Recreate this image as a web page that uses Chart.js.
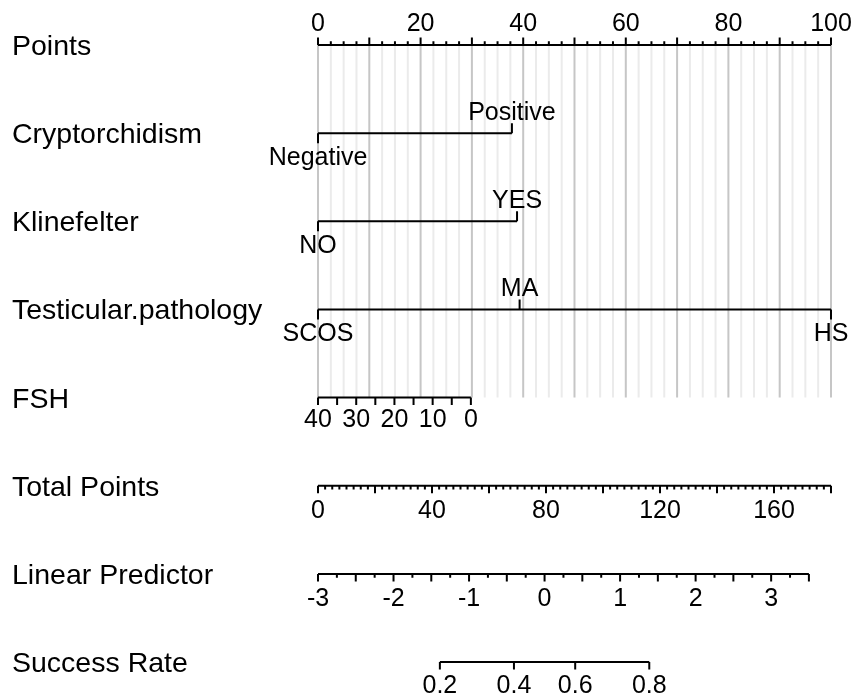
<!DOCTYPE html>
<html><head><meta charset="utf-8">
<script src="https://cdn.jsdelivr.net/npm/chart.js@4/dist/chart.umd.min.js"></script>
<style>html,body{margin:0;padding:0;background:#fff;}canvas{display:block;}</style>
</head><body>
<canvas id="c" width="853" height="695"></canvas>
<script>
// ---------- data ----------
const rowNames = ["Points","Cryptorchidism","Klinefelter","Testicular.pathology","FSH","Total Points","Linear Predictor","Success Rate"];

const pointsMajorTicks = [0,10,20,30,40,50,60,70,80,90,100];
const pointsMinorTicks = [2.5,5,7.5,12.5,15,17.5,22.5,25,27.5,32.5,35,37.5,42.5,45,47.5,52.5,55,57.5,62.5,65,67.5,72.5,75,77.5,82.5,85,87.5,92.5,95,97.5];
const pointsLabels = [0,20,40,60,80,100];

const cryptoLevels = ["Negative","Positive"];
const cryptoPoints = [0,37.8];
const cryptoSide = ["below","above"];

const klineLevels = ["NO","YES"];
const klinePoints = [0,38.8];
const klineSide = ["below","above"];

const pathLevels = ["SCOS","MA","HS"];
const pathPoints = [0,39.3,100];
const pathSide = ["below","above","below"];

const fshTicks = [40,35,30,25,20,15,10,5,0];
const fshLabels = [40,30,20,10,0];
const fshMaxValue = 40;          // FSH value scoring 0 points
const fshPointsAtZero = 29.8;    // points scored by FSH = 0

const totalMajorTicks = [0,20,40,60,80,100,120,140,160,180];
const totalMinorTicks = [2.5,5,7.5,10,12.5,15,17.5,22.5,25,27.5,30,32.5,35,37.5,42.5,45,47.5,50,52.5,55,57.5,62.5,65,67.5,70,72.5,75,77.5,82.5,85,87.5,90,92.5,95,97.5,102.5,105,107.5,110,112.5,115,117.5,122.5,125,127.5,130,132.5,135,137.5,142.5,145,147.5,150,152.5,155,157.5,162.5,165,167.5,170,172.5,175,177.5];
const totalLabels = [0,40,80,120,160];
const totalMax = 180;            // total points spanning the 0-100 points width

const lpMajorTicks = [-3,-2.5,-2,-1.5,-1,-0.5,0,0.5,1,1.5,2,2.5,3,3.5];
const lpMinorTicks = [-2.75,-2.25,-1.75,-1.25,-0.75,-0.25,0.25,0.75,1.25,1.75,2.25,2.75,3.25];
const lpLabels = [-3,-2,-1,0,1,2,3];
const lpAtZeroTotal = -3;        // linear predictor at 0 total points
const totalPerLP = 26.5;         // total points per unit of linear predictor

const successTicks = [0.2,0.4,0.6,0.8];
const successLabels = ["0.2","0.4","0.6","0.8"];

// ---------- mappings (nomogram scales -> points) ----------
const totalToPoints = tp => tp * 100 / totalMax;
const lpToPoints = lp => totalToPoints((lp - lpAtZeroTotal) * totalPerLP);
const probToPoints = p => lpToPoints(Math.log(p / (1 - p)));
const fshToPoints = v => (fshMaxValue - v) / fshMaxValue * fshPointsAtZero;

// ---------- styles ----------
const PX = 1 / 88.15;            // one pixel in row units
const TL = 7.5 * PX, TS = 3.8 * PX, TC = 10 * PX;

// ---------- build line datasets ----------
const minorGrid = [], majorGrid = [], black = [];
function seg(arr, x1, y1, x2, y2) { arr.push({x:x1,y:y1},{x:x2,y:y2},{x:x2,y:null}); }

pointsMinorTicks.forEach(v => seg(minorGrid, v, 0, v, 4));
pointsMajorTicks.forEach(v => seg(majorGrid, v, 0, v, 4));

// Points axis (ticks up)
seg(black, 0, 0, 100, 0);
pointsMajorTicks.forEach(v => seg(black, v, 0, v, -TL));
pointsMinorTicks.forEach(v => seg(black, v, 0, v, -TS));

// categorical rows
function catRow(row, pts, sides) {
  seg(black, Math.min(...pts), row, Math.max(...pts), row);
  pts.forEach((p, i) => seg(black, p, row, p, sides[i] === "above" ? row - TC : row + TC));
}
catRow(1, cryptoPoints, cryptoSide);
catRow(2, klinePoints, klineSide);
catRow(3, pathPoints, pathSide);

// FSH
seg(black, fshToPoints(fshTicks[0]), 4, fshToPoints(fshTicks[fshTicks.length-1]), 4);
fshTicks.forEach(v => seg(black, fshToPoints(v), 4, fshToPoints(v), 4 + TL));

// Total points
seg(black, totalToPoints(0), 5, totalToPoints(totalMax), 5);
totalMajorTicks.forEach(v => seg(black, totalToPoints(v), 5, totalToPoints(v), 5 + TL));
totalMinorTicks.forEach(v => seg(black, totalToPoints(v), 5, totalToPoints(v), 5 + TS));

// Linear predictor
seg(black, lpToPoints(lpMajorTicks[0]), 6, lpToPoints(lpMajorTicks[lpMajorTicks.length-1]), 6);
lpMajorTicks.forEach(v => seg(black, lpToPoints(v), 6, lpToPoints(v), 6 + TL));
lpMinorTicks.forEach(v => seg(black, lpToPoints(v), 6, lpToPoints(v), 6 + TS));

// Success rate
seg(black, probToPoints(successTicks[0]), 7, probToPoints(successTicks[successTicks.length-1]), 7);
successTicks.forEach(v => seg(black, probToPoints(v), 7, probToPoints(v), 7 + TL));

// ---------- text plugin ----------
const VAR_FONT = "28.5px 'Liberation Sans', Arial, sans-serif";
const AXIS_FONT = "25px 'Liberation Sans', Arial, sans-serif";
const textPlugin = {
  id: "nomoText",
  afterDatasetsDraw(chart) {
    const ctx = chart.ctx, xs = chart.scales.x, ys = chart.scales.y;
    const X = v => xs.getPixelForValue(v), Y = v => ys.getPixelForValue(v);
    ctx.save();
    ctx.fillStyle = "#000";
    ctx.textBaseline = "alphabetic";
    // row names
    ctx.font = VAR_FONT;
    ctx.textAlign = "left";
    rowNames.forEach((n, i) => ctx.fillText(n, 12, Y(i) + 10));
    ctx.font = AXIS_FONT;
    ctx.textAlign = "center";
    // points labels (above)
    pointsLabels.forEach(v => ctx.fillText(String(v), X(v), Y(0) - 14));
    // categorical
    function catText(row, levels, pts, sides) {
      levels.forEach((l, i) => {
        const y = sides[i] === "above" ? Y(row) - 13 : Y(row) + 32;
        ctx.fillText(l, X(pts[i]), y);
      });
    }
    catText(1, cryptoLevels, cryptoPoints, cryptoSide);
    catText(2, klineLevels, klinePoints, klineSide);
    catText(3, pathLevels, pathPoints, pathSide);
    fshLabels.forEach(v => ctx.fillText(String(v), X(fshToPoints(v)), Y(4) + 29));
    totalLabels.forEach(v => ctx.fillText(String(v), X(totalToPoints(v)), Y(5) + 32));
    lpLabels.forEach(v => ctx.fillText(String(v), X(lpToPoints(v)), Y(6) + 32));
    successTicks.forEach((v, i) => ctx.fillText(successLabels[i], X(probToPoints(v)), Y(7) + 31));
    ctx.restore();
  }
};

// ---------- chart ----------
const lineDs = (data, color, order) => ({
  data, borderColor: color, borderWidth: 2, pointRadius: 0, pointHoverRadius: 0,
  spanGaps: false, tension: 0, fill: false, clip: false, borderCapStyle: "butt", order
});

new Chart(document.getElementById("c"), {
  type: "line",
  // first dataset is painted last (on top)
  data: { datasets: [lineDs(black, "#000", 0), lineDs(majorGrid, "#c6c6c6", 1), lineDs(minorGrid, "#ebebeb", 2)] },
  options: {
    responsive: false, animation: false, devicePixelRatio: 1, events: [],
    layout: { padding: 0 },
    plugins: { legend: { display: false }, tooltip: { enabled: false } },
    scales: {
      x: { type: "linear", min: -61.99, max: 104.29, display: false },
      y: { type: "linear", min: -0.5105, max: 7.374, reverse: true, display: false }
    }
  },
  plugins: [textPlugin]
});
</script>
</body></html>
